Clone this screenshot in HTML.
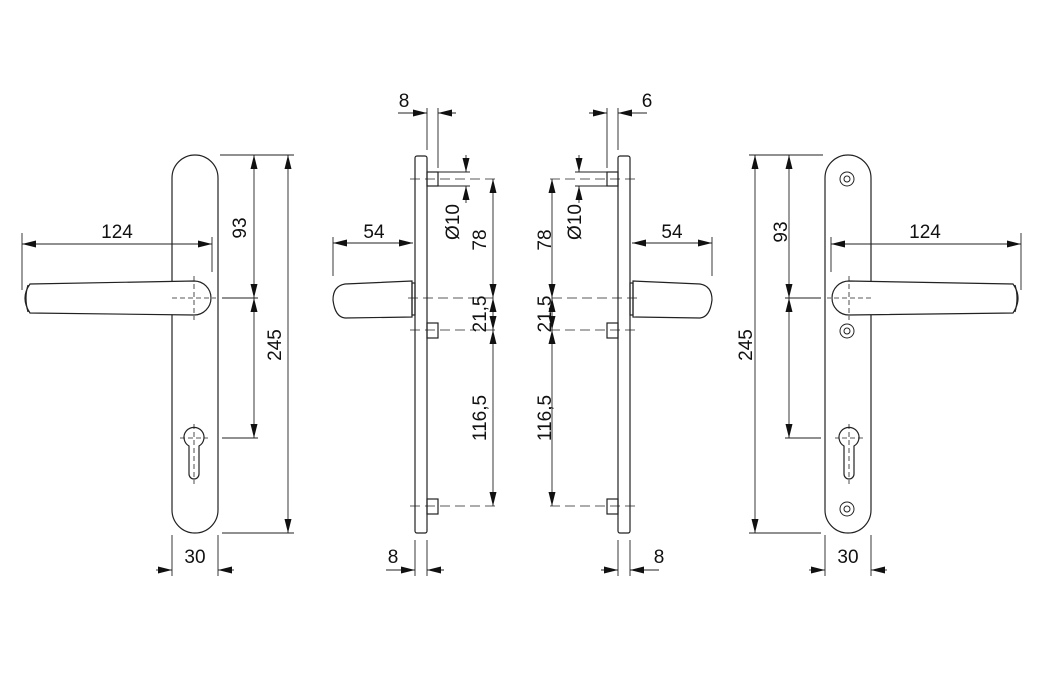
<!DOCTYPE html>
<html><head><meta charset="utf-8"><style>
html,body{margin:0;padding:0;background:#fff}
svg{display:block}
text{font-family:"Liberation Sans",sans-serif;font-size:19px;fill:#111}
</style></head><body>
<svg width="1043" height="696" viewBox="0 0 1043 696" xmlns="http://www.w3.org/2000/svg">
<defs>
<marker id="a" viewBox="0 0 14 7" refX="14" refY="3.5" markerWidth="14" markerHeight="7" markerUnits="userSpaceOnUse" orient="auto-start-reverse"><path d="M0 0 L14 3.5 L0 7 Z" fill="#111"/></marker>
<g id="front" fill="none" stroke="#222" stroke-width="1.2">
  <path d="M172 178 A23 23 0 0 1 218 178 L218 510 A23 23 0 0 1 172 510 Z"/>
  <path d="M194 281 A17 17 0 0 1 194 315 L30 313 Q20 298 30 284 Z" fill="#fff"/>
  <path d="M28 285 Q24 298 28 312"/>
  <path d="M189 446 A10 10 0 1 1 199 446 L199 474 A5 5 0 0 1 189 474 Z"/>
  <g stroke-dasharray="5,3" stroke-width="0.8">
    <line x1="172" y1="298" x2="216" y2="298"/><line x1="194" y1="276" x2="194" y2="320"/>
    <line x1="180" y1="438" x2="208" y2="438"/><line x1="194" y1="424" x2="194" y2="484"/>
  </g>
  <g stroke-width="0.9">
    <line x1="22" y1="233" x2="22" y2="290"/><line x1="212" y1="237" x2="212" y2="272"/>
    <line x1="22" y1="244" x2="212" y2="244" marker-start="url(#a)" marker-end="url(#a)"/>
    <line x1="220" y1="155" x2="294" y2="155"/><line x1="222" y1="298" x2="258" y2="298"/>
    <line x1="222" y1="438" x2="258" y2="438"/><line x1="222" y1="533" x2="294" y2="533"/>
    <line x1="254" y1="155" x2="254" y2="298" marker-start="url(#a)" marker-end="url(#a)"/>
    <line x1="254" y1="298" x2="254" y2="438" marker-start="url(#a)" marker-end="url(#a)"/>
    <line x1="288" y1="155" x2="288" y2="533" marker-start="url(#a)" marker-end="url(#a)"/>
    <line x1="172" y1="535" x2="172" y2="576"/><line x1="218" y1="535" x2="218" y2="576"/>
    <line x1="156" y1="570" x2="172" y2="570" marker-end="url(#a)"/>
    <line x1="234" y1="570" x2="218" y2="570" marker-end="url(#a)"/>
  </g>
</g>
<g id="side" fill="none" stroke="#222" stroke-width="1.2">
  <rect x="415" y="156" width="12" height="377" rx="2"/>
  <path d="M412 281 L345 284 Q333 286 333 300 Q335 317 345 318 L412 317 Z" fill="#fff"/>
  <rect x="412" y="283" width="3" height="32"/>
  <rect x="427" y="172" width="11" height="14"/>
  <rect x="427" y="323" width="11" height="15"/>
  <rect x="427" y="499" width="11" height="15"/>
  <g stroke-dasharray="10,5" stroke-width="0.8">
    <line x1="410" y1="179" x2="495" y2="179"/><line x1="408" y1="298" x2="495" y2="298"/>
    <line x1="410" y1="330" x2="495" y2="330"/><line x1="410" y1="506" x2="495" y2="506"/>
  </g>
  <g stroke-width="0.9">
    <line x1="438" y1="172" x2="470" y2="172"/><line x1="438" y1="186" x2="470" y2="186"/>
    <line x1="466" y1="155" x2="466" y2="172" marker-end="url(#a)"/>
    <line x1="466" y1="203" x2="466" y2="186" marker-end="url(#a)"/>
    <line x1="493" y1="179" x2="493" y2="298" marker-start="url(#a)" marker-end="url(#a)"/>
    <line x1="493" y1="298" x2="493" y2="330" marker-start="url(#a)" marker-end="url(#a)"/>
    <line x1="493" y1="330" x2="493" y2="506" marker-start="url(#a)" marker-end="url(#a)"/>
    <line x1="333" y1="237" x2="333" y2="276"/>
    <line x1="333" y1="243" x2="413" y2="243" marker-start="url(#a)" marker-end="url(#a)"/>
    <line x1="427" y1="108" x2="427" y2="150"/><line x1="438" y1="108" x2="438" y2="168"/>
    <line x1="398" y1="113" x2="427" y2="113" marker-end="url(#a)"/>
    <line x1="456" y1="113" x2="438" y2="113" marker-end="url(#a)"/>
    <line x1="415" y1="540" x2="415" y2="576"/><line x1="427" y1="540" x2="427" y2="576"/>
    <line x1="386" y1="570" x2="415" y2="570" marker-end="url(#a)"/>
    <line x1="444" y1="570" x2="427" y2="570" marker-end="url(#a)"/>
  </g>
</g>
</defs>
<use href="#front"/>
<use href="#front" transform="translate(1043,0) scale(-1,1)"/>
<use href="#side"/>
<use href="#side" transform="translate(1045,0) scale(-1,1)"/>
<g fill="none" stroke="#222" stroke-width="1">
  <circle cx="847" cy="179" r="7"/><circle cx="847" cy="179" r="3"/>
  <circle cx="847" cy="331" r="7"/><circle cx="847" cy="331" r="3"/>
  <circle cx="847" cy="509" r="7"/><circle cx="847" cy="509" r="3"/>
</g>
<text x="117" y="238" text-anchor="middle">124</text>
<text x="195" y="563" text-anchor="middle">30</text>
<text transform="translate(246,228) rotate(-90)" text-anchor="middle">93</text>
<text transform="translate(281,345) rotate(-90)" text-anchor="middle">245</text>
<text x="925" y="238" text-anchor="middle">124</text>
<text x="848" y="563" text-anchor="middle">30</text>
<text transform="translate(787,232) rotate(-90)" text-anchor="middle">93</text>
<text transform="translate(752,345) rotate(-90)" text-anchor="middle">245</text>
<text x="404" y="107" text-anchor="middle">8</text>
<text x="393" y="563" text-anchor="middle">8</text>
<text x="374" y="238" text-anchor="middle">54</text>
<text transform="translate(459,222) rotate(-90)" text-anchor="middle">Ø10</text>
<text transform="translate(486,240) rotate(-90)" text-anchor="middle">78</text>
<text transform="translate(486,314) rotate(-90)" text-anchor="middle">21,5</text>
<text transform="translate(486,418) rotate(-90)" text-anchor="middle">116,5</text>
<text x="647" y="107" text-anchor="middle">6</text>
<text x="659" y="563" text-anchor="middle">8</text>
<text x="672" y="238" text-anchor="middle">54</text>
<text transform="translate(581,222) rotate(-90)" text-anchor="middle">Ø10</text>
<text transform="translate(551,240) rotate(-90)" text-anchor="middle">78</text>
<text transform="translate(551,314) rotate(-90)" text-anchor="middle">21,5</text>
<text transform="translate(551,418) rotate(-90)" text-anchor="middle">116,5</text>
</svg>
</body></html>
